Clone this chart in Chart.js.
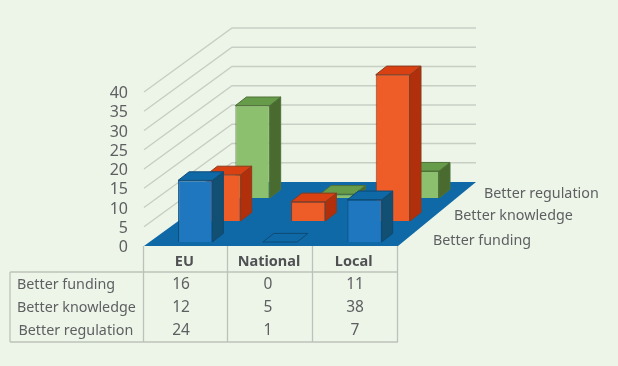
<!DOCTYPE html>
<html><head><meta charset="utf-8">
<style>html,body{margin:0;padding:0;background:#EDF5E9}canvas{display:block}</style>
<script src="https://cdn.jsdelivr.net/npm/chart.js@4/dist/chart.umd.min.js"></script>
</head><body><div style="width:618px;height:366px"><canvas id="c" width="618" height="366"></canvas></div>
<script>
const categories = ['EU', 'National', 'Local'];
const seriesNames = ['Better funding', 'Better knowledge', 'Better regulation'];
const betterFunding = [16, 0, 11];
const betterKnowledge = [12, 5, 38];
const betterRegulation = [24, 1, 7];
const yTicks = [0, 5, 10, 15, 20, 25, 30, 35, 40];

const FONT = '"Noto Sans"';
const TEXT = '#5E5F61';
const GRID = '#C8CEC4';
const FLOOR = '#0F69A6';
const themes = [
  {front:'#1F78BF', side:'#114F73', top:'#0F69A6', line:'#0F4A75', shift:[8.9,-4],  label:[433,241]},
  {front:'#EE5C28', side:'#B22F0B', top:'#DA4112', line:'#8A3A1E', shift:[37.2,-25], label:[454,216]},
  {front:'#8CC06E', side:'#496B2F', top:'#669C49', line:'#4F7238', shift:[66.2,-48], label:[484,194]}
];
const BOX = [11, -8.6];
const tableCols = [181, 268, 355];
const tableRows = [285, 308, 331];
const rowLabelX = [17, 17, 18.5];
const seriesValues = [betterFunding, betterKnowledge, betterRegulation];

function poly(ctx, pts, fill, line) {
  ctx.beginPath();
  pts.forEach((p, i) => i ? ctx.lineTo(p[0], p[1]) : ctx.moveTo(p[0], p[1]));
  ctx.closePath();
  ctx.fillStyle = fill; ctx.fill();
  if (line) { ctx.strokeStyle = line; ctx.lineWidth = 1; ctx.stroke(); }
}

const scene3d = {
  id: 'scene3d',
  beforeDraw(chart) {
    const {ctx} = chart;
    ctx.save();
    ctx.fillStyle = '#EDF5E9';
    ctx.fillRect(0, 0, chart.width, chart.height);
    ctx.restore();
  },
  beforeDatasetsDraw(chart) {
    const {ctx, chartArea: a, scales: {y}} = chart;
    ctx.save();
    ctx.strokeStyle = GRID; ctx.lineWidth = 1.4;
    yTicks.slice(1).forEach(v => {
      const p = y.getPixelForValue(v);
      ctx.beginPath();
      ctx.moveTo(a.left, p);
      ctx.lineTo(a.left + 88, p - 64);
      ctx.lineTo(a.right + 78, p - 64);
      ctx.stroke();
    });
    const b = y.getPixelForValue(0);
    poly(ctx, [[a.left, b], [a.right, b], [a.right + 78, b - 64], [a.left + 88, b - 64]], FLOOR);
    ctx.restore();

    // table
    ctx.save();
    ctx.strokeStyle = '#BCC2B8'; ctx.lineWidth = 1.3;
    const lines = [[[143.5,246],[143.5,342]],[[227.5,246],[227.5,342]],[[312.5,246],[312.5,342]],[[397.5,246],[397.5,342]],[[10,272],[10,342]],[[10,272],[398,272]],[[10,342],[398,342]]];
    lines.forEach(l => { ctx.beginPath(); ctx.moveTo(l[0][0], l[0][1]); ctx.lineTo(l[1][0], l[1][1]); ctx.stroke(); });
    ctx.fillStyle = TEXT; ctx.textBaseline = 'middle';
    seriesNames.forEach((n, i) => {
      ctx.font = '14.3px ' + FONT;
      ctx.textAlign = 'left';
      ctx.fillText(n, rowLabelX[i], tableRows[i] - 0.5);
      ctx.fillText(n, themes[i].label[0], themes[i].label[1]);
      ctx.font = '15.5px ' + FONT;
      ctx.textAlign = 'center';
      seriesValues[i].forEach((v, j) => ctx.fillText(String(v), tableCols[j], tableRows[i]));
    });
    ctx.restore();
  },
  beforeDatasetDraw(chart, args) {
    const {ctx} = chart, t = themes[args.index];
    ctx.save();
    ctx.translate(t.shift[0], t.shift[1]);
    args.meta.data.forEach(el => {
      const {x, y, base, width} = el.getProps(['x', 'y', 'base', 'width'], true);
      const l = x - width / 2, r = x + width / 2;
      if (base - y > 0.5) poly(ctx, [[r, y], [r + BOX[0], y + BOX[1]], [r + BOX[0], base + BOX[1]], [r, base]], t.side, t.line);
      poly(ctx, [[l, y], [r, y], [r + BOX[0], y + BOX[1]], [l + BOX[0], y + BOX[1]]], t.top, t.line);
    });
  },
  afterDatasetDraw(chart) { chart.ctx.restore(); }
};

new Chart(document.getElementById('c'), {
  type: 'bar',
  data: {
    labels: categories,
    datasets: seriesNames.map((n, i) => ({
      label: n,
      data: seriesValues[i],
      order: i,
      grouped: false,
      clip: false,
      backgroundColor: themes[i].front,
      borderColor: themes[i].line,
      borderWidth: 1,
      barPercentage: 0.405,
      categoryPercentage: 1
    }))
  },
  options: {
    responsive: false,
    animation: false,
    devicePixelRatio: 1,
    layout: {padding: {left: 100, right: 220, top: 92, bottom: 0}},
    plugins: {legend: {display: false}, tooltip: {enabled: false}, title: {display: false}},
    scales: {
      x: {
        grid: {display: false, drawTicks: false},
        border: {display: false},
        afterFit(s) { s.height = 120; },
        ticks: {padding: 7, color: '#505153', labelOffset: -2, maxRotation: 0, font: {family: FONT, size: 14.5, weight: '700'}}
      },
      y: {
        min: 0, max: 40,
        grid: {display: false, drawTicks: false},
        border: {display: false},
        afterFit(s) { s.width = 44; },
        ticks: {stepSize: 5, autoSkip: false, padding: 16, labelOffset: 1.5, color: TEXT, font: {family: FONT, size: 16}}
      }
    }
  },
  plugins: [scene3d]
});
</script></body></html>
